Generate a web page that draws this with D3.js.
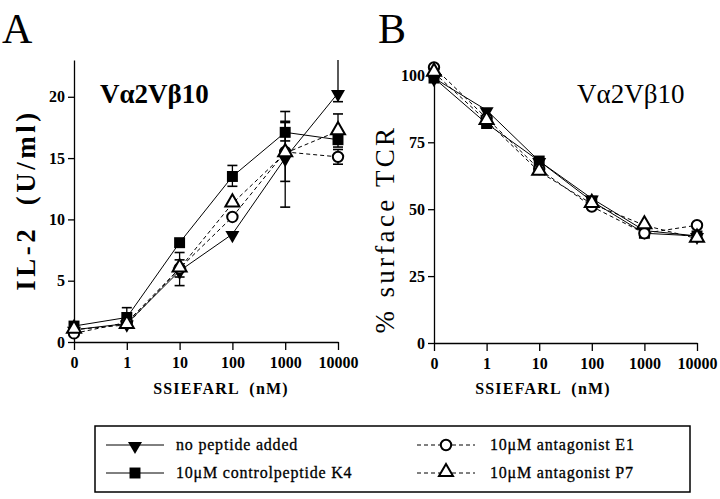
<!DOCTYPE html>
<html lang="en">
<head>
<meta charset="UTF-8">
<title>IL-2 and surface TCR vs SSIEFARL</title>
<script src="https://d3js.org/d3.v7.min.js"></script>
<style>
  body, html { margin: 0; padding: 0; background: white; }
  svg text { font-family: "Liberation Serif", "Times New Roman", Tinos, "DejaVu Serif", "Noto Serif", Times, serif; }
</style>
</head>
<body>
<svg width="720" height="499"></svg>
<script>
// x categories (SSIEFARL, nM)
const doses = ["0", "1", "10", "100", "1000", "10000"];

// panel A: IL-2 (U/ml)
const il2NoPeptide = [1.0, 1.5, 5.8, 8.8, 15.0, 20.3];
const il2Control   = [1.3, 2.0, 8.1, 13.5, 17.1, 16.5];
const il2E1        = [0.7, 1.6, 6.0, 10.2, 15.5, 15.1];
const il2P7        = [1.0, 1.4, 6.0, 11.3, 15.4, 17.2];
// error bars [dose index, low, high]
const il2ErrNoPeptide = [[4, 11.0, 18.8], [5, 19.6, 26]];
const il2ErrControl   = [[1, 1.4, 2.8], [3, 12.7, 14.4], [4, 16.4, 18.0]];
const il2ErrE1        = [[2, 4.6, 7.3], [4, 13.1, 17.9], [5, 14.5, 15.7]];
const il2ErrP7        = [[2, 5.3, 6.7], [5, 15.9, 18.6]];

// panel B: % surface TCR
const tcrNoPeptide = [99, 87, 68, 54, 42, 40];
const tcrControl   = [99, 82, 68, 53, 41, 40];
const tcrE1        = [103, 84, 65, 51, 41, 44];
const tcrP7        = [101, 83, 64, 52, 44, 39];

const ticksA = [0, 5, 10, 15, 20];
const ticksB = [0, 25, 50, 75, 100];

const legendLabels = ["no peptide added", "10\u03bcM controlpeptide K4", "10\u03bcM antagonist E1", "10\u03bcM antagonist P7"];

const svg = d3.select("svg");

const symTri = d3.symbol().type(d3.symbolTriangle).size(85);
const symSquare = d3.symbol().type(d3.symbolSquare).size(120);
const symCircle = d3.symbol().type(d3.symbolCircle).size(85);

function drawMarker(g, kind, x, y) {
  if (kind === "down") {
    g.append("path").attr("d", symTri()).attr("transform", `translate(${x},${y + 1}) rotate(180)`).attr("fill", "#000");
  } else if (kind === "square") {
    g.append("path").attr("d", symSquare()).attr("transform", `translate(${x},${y})`).attr("fill", "#000");
  } else if (kind === "circle") {
    g.append("path").attr("d", symCircle()).attr("transform", `translate(${x},${y})`).attr("fill", "#fff").attr("stroke", "#000").attr("stroke-width", 2);
  } else {
    g.append("path").attr("d", symTri()).attr("transform", `translate(${x},${y - 1})`).attr("fill", "#fff").attr("stroke", "#000").attr("stroke-width", 2);
  }
}

function panel(opt) {
  const x = d3.scaleLinear().domain([0, doses.length - 1]).range([opt.x0, opt.x1]);
  const y = d3.scaleLinear().domain([0, opt.ymax]).range([opt.y0, opt.ytop]);
  const g = svg.append("g");

  // axes
  const ax = g.append("g").attr("transform", `translate(0,${opt.y0})`)
    .call(d3.axisBottom(x).tickValues(d3.range(doses.length)).tickFormat(i => doses[i]).tickSize(8).tickSizeOuter(0).tickPadding(7));
  const ay = g.append("g").attr("transform", `translate(${opt.x0},0)`)
    .call(d3.axisLeft(y).tickValues(opt.ticks).tickSize(6).tickSizeOuter(0).tickPadding(3));
  for (const a of [ax, ay]) {
    a.attr("font-family", null);
    a.selectAll("path, line").attr("stroke", "#000").attr("stroke-width", 1.3);
    a.selectAll("text").attr("fill", "#000").attr("font-size", 16).attr("font-weight", "bold");
  }

  const line = d3.line().x((d, i) => x(i)).y(d => y(d));
  const series = opt.series;

  // error bars
  for (const s of series) {
    for (const [i, lo, hi] of s.err || []) {
      const yl = y(lo), yh = Math.max(y(hi), opt.ytop);
      g.append("line").attr("x1", x(i)).attr("x2", x(i)).attr("y1", yl).attr("y2", yh).attr("stroke", "#000").attr("stroke-width", 1.3);
      g.append("line").attr("x1", x(i) - 5).attr("x2", x(i) + 5).attr("y1", yl).attr("y2", yl).attr("stroke", "#000").attr("stroke-width", 1.6);
      if (y(hi) > opt.ytop) {
        g.append("line").attr("x1", x(i) - 5).attr("x2", x(i) + 5).attr("y1", yh).attr("y2", yh).attr("stroke", "#000").attr("stroke-width", 1.6);
      }
    }
  }
  // lines
  for (const s of series) {
    g.append("path").datum(s.values).attr("d", line).attr("fill", "none")
      .attr("stroke", "#000").attr("stroke-width", 1)
      .attr("stroke-dasharray", s.dashed ? "4,3" : null);
  }
  // markers
  for (const s of series) {
    s.values.forEach((v, i) => drawMarker(g, s.kind, x(i), y(v)));
  }

  // labels
  svg.append("text").attr("x", opt.letterX).attr("y", 43).attr("font-size", 42).text(opt.letter);
  svg.append("text").attr("x", opt.tagX).attr("y", 103).attr("font-size", 27)
    .attr("font-weight", opt.tagBold ? "bold" : "normal").text("V\u03b12V\u03b210");
  svg.append("text").attr("transform", `translate(${opt.titleX},${opt.titleY}) rotate(-90)`)
    .attr("text-anchor", "middle").attr("font-size", opt.titleSize)
    .attr("font-weight", opt.titleBold ? "bold" : "normal")
    .attr("letter-spacing", opt.titleSpacing).style("white-space", "pre").text(opt.title);
  svg.append("text").attr("x", opt.xTitleX).attr("y", 394).attr("text-anchor", "middle")
    .attr("font-size", 16).attr("font-weight", "bold").attr("letter-spacing", 1.2)
    .style("white-space", "pre").text("SSIEFARL  (nM)");
}

panel({
  x0: 74, x1: 338, y0: 342, ytop: 60, ymax: 23, ticks: ticksA,
  letter: "A", letterX: 2, tagX: 100, tagBold: true,
  title: "IL-2  (U/ml)", titleX: 35, titleY: 200, titleSize: 27, titleBold: true, titleSpacing: 3.5,
  xTitleX: 221,
  series: [
    { values: il2NoPeptide, kind: "down", dashed: false, err: il2ErrNoPeptide },
    { values: il2Control, kind: "square", dashed: false, err: il2ErrControl },
    { values: il2E1, kind: "circle", dashed: true, err: il2ErrE1 },
    { values: il2P7, kind: "tri", dashed: true, err: il2ErrP7 }
  ]
});

panel({
  x0: 434, x1: 697, y0: 343, ytop: 62, ymax: 105, ticks: ticksB,
  letter: "B", letterX: 378, tagX: 577, tagBold: false,
  title: "% surface TCR", titleX: 394, titleY: 229, titleSize: 27, titleBold: false, titleSpacing: 3.3,
  xTitleX: 543,
  series: [
    { values: tcrNoPeptide, kind: "down", dashed: false },
    { values: tcrControl, kind: "square", dashed: false },
    { values: tcrE1, kind: "circle", dashed: true },
    { values: tcrP7, kind: "tri", dashed: true }
  ]
});

// legend
const lg = svg.append("g");
lg.append("rect").attr("x", 95).attr("y", 426).attr("width", 595).attr("height", 66)
  .attr("fill", "none").attr("stroke", "#000").attr("stroke-width", 1.5);
const legendItems = [
  { kind: "down", dashed: false, lx: 106, ly: 445, tx: 176 },
  { kind: "square", dashed: false, lx: 106, ly: 473, tx: 176 },
  { kind: "circle", dashed: true, lx: 417, ly: 445, tx: 490 },
  { kind: "tri", dashed: true, lx: 417, ly: 473, tx: 490 }
];
legendItems.forEach((it, i) => {
  lg.append("line").attr("x1", it.lx).attr("x2", it.lx + 58).attr("y1", it.ly).attr("y2", it.ly)
    .attr("stroke", "#000").attr("stroke-width", 1).attr("stroke-dasharray", it.dashed ? "4,3" : null);
  drawMarker(lg, it.kind, it.lx + 29, it.ly);
  lg.append("text").attr("x", it.tx).attr("y", it.ly + 5).attr("font-size", 16)
    .attr("stroke", "#000").attr("stroke-width", 0.3)
    .attr("letter-spacing", 0.8).style("white-space", "pre").text(legendLabels[i]);
});
</script>
</body>
</html>
